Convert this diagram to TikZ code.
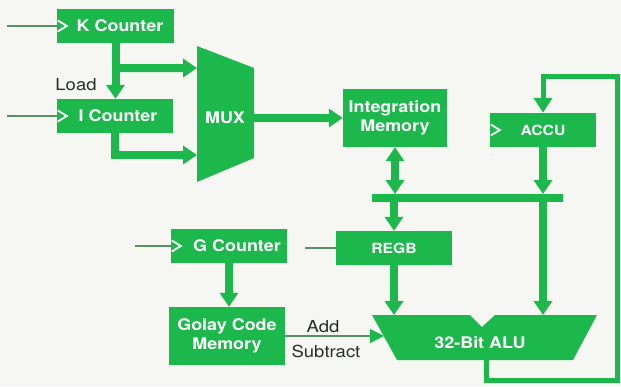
\documentclass[tikz,border=0pt]{standalone}
\usepackage{fontspec}
\setmainfont{TeX Gyre Heros}[FakeStretch=1.12]
\usepackage{tikz}
\usetikzlibrary{arrows.meta, positioning, calc}
\definecolor{hpgreen}{RGB}{28,184,76}
\definecolor{hpthin}{RGB}{90,145,100}
\definecolor{hppaper}{RGB}{246,247,242}
\definecolor{hptext}{RGB}{40,45,40}

\begin{document}
\begin{tikzpicture}[
  x=1pt, y=-1pt,
  >={Triangle[width=18pt,length=14pt]},
  blk/.style={fill=hpgreen, text=white, inner sep=0pt, align=center,
    font=\fontsize{16}{19}\selectfont\bfseries},
  small/.style={font=\fontsize{14}{17}\selectfont\bfseries},
  clk/.style={blk, path picture={\draw[white, line width=1.8pt]
    ([xshift=0.8pt,yshift=5.5pt]path picture bounding box.west) -- ++(9pt,-5.5pt) -- ++(-9pt,-5.5pt);}},
  fat/.style={draw=hpgreen, line width=8pt},
  ring/.style={draw=hpgreen, line width=5pt, -{Triangle[width=18pt,length=15pt]}},
  thin/.style={draw=hpthin, line width=1.1pt},
  lbl/.style={text=hptext, font=\fontsize{16.5}{19}\selectfont}
  ]
  \fill[hppaper] (0,0) rectangle (621,386);
  \useasboundingbox (0,0) rectangle (621,386);

  % counters and mux
  \node[clk, minimum width=117pt, minimum height=34pt] (kc) at (115.5,26) {\hspace*{9pt}K Counter};
  \node[clk, minimum width=116pt, minimum height=34pt] (ic) at (115,116) {\hspace*{6pt}I Counter};
  \coordinate (m1) at (197,46);
  \coordinate (m2) at (254,68);
  \coordinate (m3) at (254,158);
  \coordinate (m4) at (197,182);
  \fill[hpgreen] (m1) -- (m2) -- (m3) -- (m4) -- cycle;
  \node[blk] (mux) at (225,118) {MUX};
  \coordinate (mk) at (197,68);
  \coordinate (mi) at (197,155);
  \coordinate (mo) at (254,118);
  \coordinate (kin) at (7,26);
  \coordinate (iin) at (7,116);
  \draw[thin] (kin) -- (kc.west);
  \draw[thin] (iin) -- (ic.west);
  \draw[fat,->] (kc.south) -- (kc.south |- ic.north);
  \coordinate (kb) at ($(kc.south)!0.45!(ic.north)$);
  \draw[fat,->] (kb) -- (mk);
  \draw[fat,->] (ic.south) |- (mi);
  \node[lbl] (load) at (76,85) {Load};

  % memory, accumulator, bus
  \node[blk, minimum width=104pt, minimum height=58pt] (im) at (395,118) {Integration\\Memory};
  \node[clk, small, minimum width=106pt, minimum height=34pt] (ac) at (543,130) {ACCU};
  \node[blk, small, minimum width=116pt, minimum height=34pt] (rb) at (394,248) {REGB};
  \coordinate (busl) at (372,198);
  \coordinate (busr) at (563,198);
  \draw[fat] (busl) -- (busr);
  \draw[fat,->] (mo) -- (im.west);
  \draw[fat,<->] (im.south) -- ([yshift=4pt]im.south |- busl);
  \draw[fat,->] ([yshift=-4pt]rb.north |- busl) -- (rb.north);
  \draw[fat,->] (ac.south) -- ([yshift=4pt]ac.south |- busl);
  \coordinate (rin) at (305,248);
  \draw[thin] (rin) -- (rb.west);

  % golay code
  \node[clk, minimum width=116pt, minimum height=34pt] (gc) at (229,246) {\hspace*{16pt}G Counter};
  \node[blk, minimum width=116pt, minimum height=58pt] (gm) at (227,336) {Golay Code\\Memory};
  \coordinate (gin) at (135,246);
  \draw[thin] (gin) -- (gc.west);
  \draw[fat,->] (gc.south) -- (gc.south |- gm.north);

  % alu
  \fill[hpgreen] (372,315) -- (470,315) -- (482,327) -- (495,315) -- (597,315)
    -- (573,360) -- (397,360) -- cycle;
  \node[blk] (alu) at (480,343) {32-Bit ALU};
  \coordinate (aa) at (394,315);
  \coordinate (ab) at (543,315);
  \coordinate (as) at (384,336);
  \coordinate (ao) at (486,360);
  \draw[fat,->] (rb.south) -- (aa);
  \draw[fat,->] ([yshift=-4pt]ac.south |- busl) -- (ab);
  \draw[thin, -{Triangle[width=14pt,length=14pt,color=hpgreen]}] (gm.east) -- (as);
  \node[lbl] (add) at (323,327) {Add};
  \node[lbl] (sub) at (326,351) {Subtract};

  % feedback
  \coordinate (fb1) at (617,380);
  \coordinate (fb2) at (617,76);
  \draw[ring] (ao) |- (fb1) -- (fb2) -| (ac.north);
\end{tikzpicture}
\end{document}
